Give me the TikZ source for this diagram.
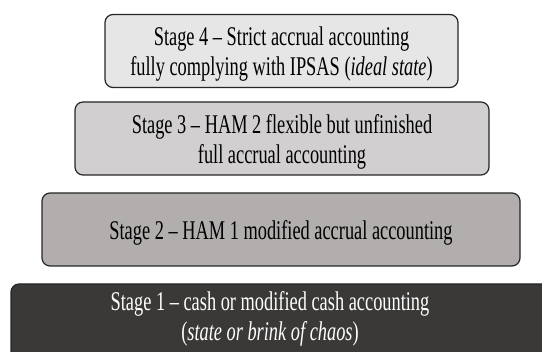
\documentclass[tikz,border=0pt]{standalone}
\usepackage{fontspec}
\setmainfont[FakeStretch=0.68]{Liberation Serif}
\usepackage{tikz}
\usetikzlibrary{positioning}

\definecolor{stagefour}{HTML}{E6E6E6}
\definecolor{stagethree}{HTML}{D1CFCF}
\definecolor{stagetwo}{HTML}{B1AEAD}
\definecolor{stageone}{HTML}{3A3938}
\definecolor{rim}{HTML}{262626}

\begin{document}
\begin{tikzpicture}[x=1pt,y=-1pt,
		stagebox/.style={draw=rim,line width=1.2pt,rounded corners=8pt,align=center,
			font=\fontsize{27}{30}\selectfont,text depth=0pt,minimum height=73pt,inner sep=0pt}]
			\useasboundingbox (0,0) rectangle (542,352);
			\clip (0,0) rectangle (542,352);
			
			% stage 4
			
			\node[stagebox,fill=stagefour,minimum width=353pt] (S4) at (281.5,51)
				{Stage 4 -- Strict accrual accounting\\fully complying with IPSAS (\textit{ideal state})};
			
			% stage 3
			
			\node[stagebox,fill=stagethree,minimum width=414pt] (S3) at (282,138.5)
				{Stage 3 -- HAM 2 flexible but unfinished\\full accrual accounting};
			
			% stage 2
			
			\node[stagebox,fill=stagetwo,minimum width=478pt] (S2) at (281,229.5)
				{Stage 2 -- HAM 1 modified\ accrual accounting};
			
			% stage 1
			
			\filldraw[draw=rim,fill=stageone,line width=1.2pt,rounded corners=8pt] (11,284) rectangle (580,400);
			\node[align=center,text=white,font=\fontsize{27}{30}\selectfont,text depth=0pt,inner sep=0pt] (S1) at (270,316)
				{Stage 1 -- cash or modified\ cash accounting\\(\textit{state or brink of chaos})};
			
		\end{tikzpicture}
\end{document}
